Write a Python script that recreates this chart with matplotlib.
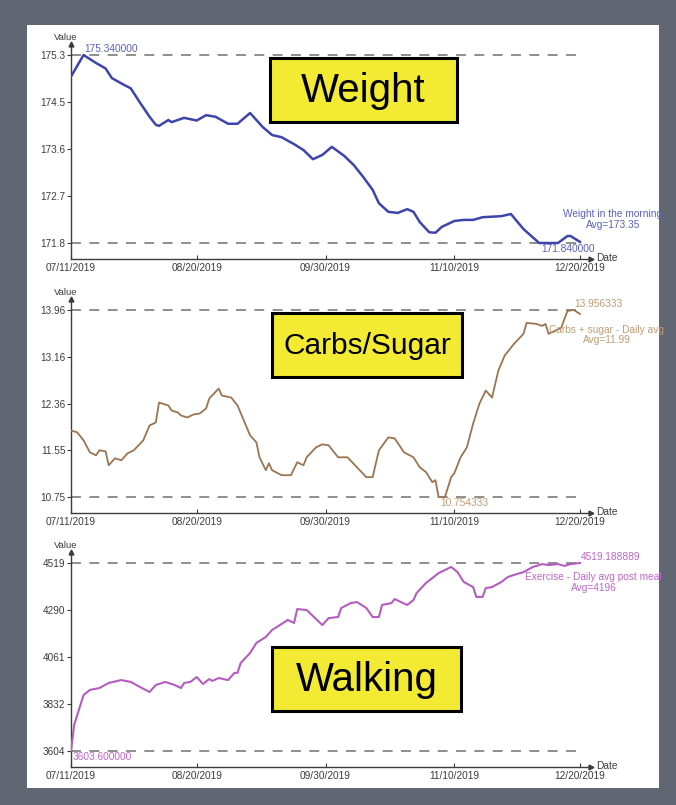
"""
Three stacked daily-average panels (weight, carbs/sugar, walking)
drawn on a white card with a slate border, like a phone screenshot.
"""

import matplotlib
matplotlib.use("Agg")
import matplotlib.pyplot as plt
from matplotlib.patches import Rectangle
import numpy as np
import pandas as pd

W, H, DPI = 676, 805, 100
START = pd.Timestamp("2019-07-11")

# ---- data (day offsets from 07/11/2019) ----
weight_days = [0, 4, 8, 11, 13, 17, 19, 22, 25, 27, 28, 31, 32, 36, 40, 43, 46, 50,
               53, 57, 61, 64, 67, 71, 74, 77, 80, 83, 87, 90, 93, 96, 98, 101, 104,
               107, 109, 111, 114, 116, 118, 122, 125, 128, 131, 137, 140, 144, 149,
               155, 158, 159, 162]
weight_vals = [174.94, 175.34, 175.19, 175.09, 174.91, 174.78, 174.72, 174.45, 174.19,
               174.04, 174.02, 174.13, 174.09, 174.17, 174.12, 174.22, 174.19, 174.06,
               174.06, 174.26, 174.00, 173.85, 173.81, 173.68, 173.57, 173.40, 173.48,
               173.63, 173.46, 173.29, 173.07, 172.83, 172.58, 172.42, 172.40, 172.47,
               172.42, 172.23, 172.04, 172.03, 172.14, 172.25, 172.27, 172.27, 172.32,
               172.34, 172.38, 172.10, 171.84, 171.84, 171.97, 171.97, 171.86]

carbs_days = [0, 2, 4, 6, 8, 9, 11, 12, 14, 16, 18, 20, 23, 25, 27, 28, 31, 32, 34, 35,
              37, 39, 41, 43, 44, 47, 48, 51, 53, 55, 57, 59, 60, 62, 63, 64, 67, 70,
              72, 74, 75, 78, 80, 82, 85, 88, 91, 94, 96, 98, 101, 103, 106, 109, 111,
              113, 115, 116, 117, 119, 121, 122, 124, 126, 128, 130, 132, 134, 136,
              138, 141, 144, 145, 148, 150, 151, 152, 156, 158, 160, 162]
carbs_vals = [11.895, 11.861, 11.725, 11.520, 11.469, 11.555, 11.538, 11.299, 11.418,
              11.384, 11.503, 11.555, 11.725, 11.980, 12.031, 12.372, 12.321, 12.236,
              12.202, 12.151, 12.117, 12.168, 12.185, 12.270, 12.440, 12.611, 12.492,
              12.457, 12.321, 12.066, 11.810, 11.691, 11.435, 11.214, 11.333, 11.214,
              11.129, 11.129, 11.350, 11.299, 11.435, 11.606, 11.657, 11.640, 11.435,
              11.435, 11.265, 11.095, 11.095, 11.555, 11.776, 11.759, 11.520, 11.435,
              11.265, 11.180, 11.009, 11.044, 10.754333, 10.754333, 11.095, 11.163,
              11.435, 11.606, 12.015, 12.355, 12.577, 12.457, 12.917, 13.173, 13.377,
              13.547, 13.735, 13.718, 13.683, 13.718, 13.547, 13.649, 13.939,
              13.956333, 13.888]

walk_days = [0, 1, 3, 4, 6, 9, 12, 16, 19, 22, 25, 27, 30, 33, 35, 36, 38, 40, 42, 44,
             45, 47, 50, 52, 53, 54, 57, 59, 62, 64, 67, 69, 71, 72, 75, 77, 80, 82,
             85, 86, 89, 91, 94, 96, 98, 99, 102, 103, 105, 107, 109, 110, 113, 115,
             117, 121, 123, 125, 128, 129, 131, 132, 134, 137, 139, 141, 144, 147,
             150, 152, 155, 157, 159, 162]
walk_vals = [3603.6, 3730, 3828, 3876, 3901, 3910, 3935, 3949, 3940, 3915, 3891, 3925,
             3940, 3925, 3910, 3935, 3940, 3964, 3930, 3954, 3945, 3959, 3949, 3984,
             3984, 4032, 4081, 4130, 4159, 4193, 4222, 4242, 4227, 4295, 4290, 4261,
             4217, 4251, 4256, 4300, 4324, 4329, 4300, 4256, 4256, 4315, 4324, 4344,
             4329, 4315, 4339, 4373, 4422, 4446, 4470, 4500, 4475, 4427, 4402, 4354,
             4354, 4397, 4402, 4427, 4451, 4461, 4475, 4500, 4514, 4509, 4514, 4505,
             4514, 4519.188889]

x_tick_dates  = ["2019-07-11", "2019-08-20", "2019-09-30", "2019-11-10", "2019-12-20"]
x_tick_labels = ["07/11/2019", "08/20/2019", "09/30/2019", "11/10/2019", "12/20/2019"]

weight_ticks = ["175.3", "174.5", "173.6", "172.7", "171.8"]
carbs_ticks  = ["13.96", "13.16", "12.36", "11.55", "10.75"]
walk_ticks   = ["4519", "4290", "4061", "3832", "3604"]

titles     = ["Weight", "Carbs/Sugar", "Walking"]
names      = ["Weight in the morning", "Carbs + sugar - Daily avg",
              "Exercise - Daily avg post meal"]
avg_labels = ["Avg=173.35", "Avg=11.99", "Avg=4196"]

LINE_COLORS  = ["#3d45ad", "#9c7450", "#b45cbf"]
LINE_WIDTHS  = [1.8, 1.3, 1.5]
LABEL_COLORS = ["#5a5fc4", "#c29a74", "#c264cc"]

BORDER = "#606772"
YELLOW = "#f2ea33"
AXIS_C = "#3c3c3c"
DASH_C = "#707070"


def fx(x):
    return x / W


def fy(y):
    return 1 - y / H


def panel(fig, card, top, bottom, days, vals, ticks, color, lw, lab_color,
          name, avg, name_pos):
    # axes spans from the y-arrow tip (top) to the x-axis line (bottom), in px
    left, right = 71, 591
    ax = fig.add_axes([fx(left), fy(bottom), (right - left) / W, (bottom - top) / H])
    ax.set_facecolor("none")

    dates = START + pd.to_timedelta(days, unit="D")
    vals = np.asarray(vals)
    vmin, vmax = vals.min(), vals.max()
    rng = vmax - vmin

    ax.plot(dates, vals, color=color, lw=lw, solid_joinstyle="round", zorder=3)
    for v in (vmin, vmax):
        ax.hlines(v, dates[0], dates[-1] + pd.Timedelta(days=1), colors=DASH_C,
                  lw=1.1, linestyles=(0, (6.5, 5.5)), zorder=2)

    ax.set_xlim(START, START + pd.Timedelta(days=165.5))
    ax.set_ylim(vmin - rng * 16 / 188, vmax + rng * 11 / 188)

    ax.set_yticks(np.linspace(vmax, vmin, 5))
    ax.set_yticklabels(ticks)
    ax.set_xticks(pd.to_datetime(x_tick_dates))
    ax.set_xticklabels(x_tick_labels)

    ax.tick_params(axis="y", length=3, pad=1, labelsize=7.2, colors=AXIS_C, width=0.8)
    ax.tick_params(axis="x", direction="in", length=3, pad=3, labelsize=7.3,
                   colors=AXIS_C, width=0.8)

    for s in ("top", "right"):
        ax.spines[s].set_visible(False)
    for s in ("left", "bottom"):
        ax.spines[s].set_color(AXIS_C)
        ax.spines[s].set_linewidth(1.0)

    ax.plot(1, 0, ">", color=AXIS_C, ms=3.5, transform=ax.transAxes, clip_on=False)
    ax.plot(0, 1, "^", color=AXIS_C, ms=3.5, transform=ax.transAxes, clip_on=False)
    ax.annotate("Value", xy=(0, 1), xycoords="axes fraction", xytext=(-5, 7),
                textcoords="offset pixels", ha="center", va="center",
                fontsize=6.8, color=AXIS_C)
    ax.annotate("Date", xy=(1, 0), xycoords="axes fraction", xytext=(5, 1),
                textcoords="offset pixels", ha="left", va="center",
                fontsize=7.3, color=AXIS_C)

    imax, imin = int(vals.argmax()), int(vals.argmin())
    ax.annotate(f"{vmax:.6f}", xy=(dates[imax], vmax), xytext=(1, 6),
                textcoords="offset pixels", ha="left", va="center",
                fontsize=7.3, color=lab_color, annotation_clip=False)
    ax.annotate(f"{vmin:.6f}", xy=(dates[imin], vmin), xytext=(2, -6),
                textcoords="offset pixels", ha="left", va="center",
                fontsize=7.3, color=lab_color, annotation_clip=False)

    nx, ny1, ny2 = name_pos
    for txt, ny in ((name, ny1), (avg, ny2)):
        t = ax.text(nx, ny, txt, transform=ax.transAxes, ha="center", va="center",
                    fontsize=7.3, color=lab_color)
        t.set_clip_path(card)
    return ax


def title_box(fig, x0, y0, x1, y1, text, size):
    box = Rectangle((fx(x0), fy(y1)), (x1 - x0) / W, (y1 - y0) / H,
                    transform=fig.transFigure, facecolor=YELLOW,
                    edgecolor="black", lw=2.2, zorder=5)
    fig.add_artist(box)
    fig.text(fx((x0 + x1) / 2), fy((y0 + y1) / 2 + 1), text, ha="center",
             va="center", fontsize=size, color="black", zorder=6)


def chart():
    plt.rcParams.update({
        "font.family": ["Liberation Sans", "DejaVu Sans"],
    })

    fig = plt.figure(figsize=(W / DPI, H / DPI), dpi=DPI, facecolor=BORDER)

    card = Rectangle((fx(27), fy(788)), (659 - 27) / W, (788 - 25) / H,
                     transform=fig.transFigure, facecolor="white",
                     edgecolor="none", zorder=0)
    fig.add_artist(card)

    panel(fig, card, 44, 259, weight_days, weight_vals, weight_ticks,
          LINE_COLORS[0], LINE_WIDTHS[0], LABEL_COLORS[0], names[0], avg_labels[0],
          (1.042, 0.209, 0.158))
    panel(fig, card, 299, 513, carbs_days, carbs_vals, carbs_ticks,
          LINE_COLORS[1], LINE_WIDTHS[1], LABEL_COLORS[1], names[1], avg_labels[1],
          (1.030, 0.855, 0.808))
    panel(fig, card, 552, 767, walk_days, walk_vals, walk_ticks,
          LINE_COLORS[2], LINE_WIDTHS[2], LABEL_COLORS[2], names[2], avg_labels[2],
          (1.005, 0.884, 0.833))

    title_box(fig, 270, 58, 457, 122, titles[0], 29)
    title_box(fig, 272, 313, 462, 377, titles[1], 21.5)
    title_box(fig, 272, 647, 461, 711, titles[2], 29)

    fig.savefig("out.png", dpi=DPI, facecolor=BORDER)
    plt.close(fig)


if __name__ == "__main__":
    chart()
